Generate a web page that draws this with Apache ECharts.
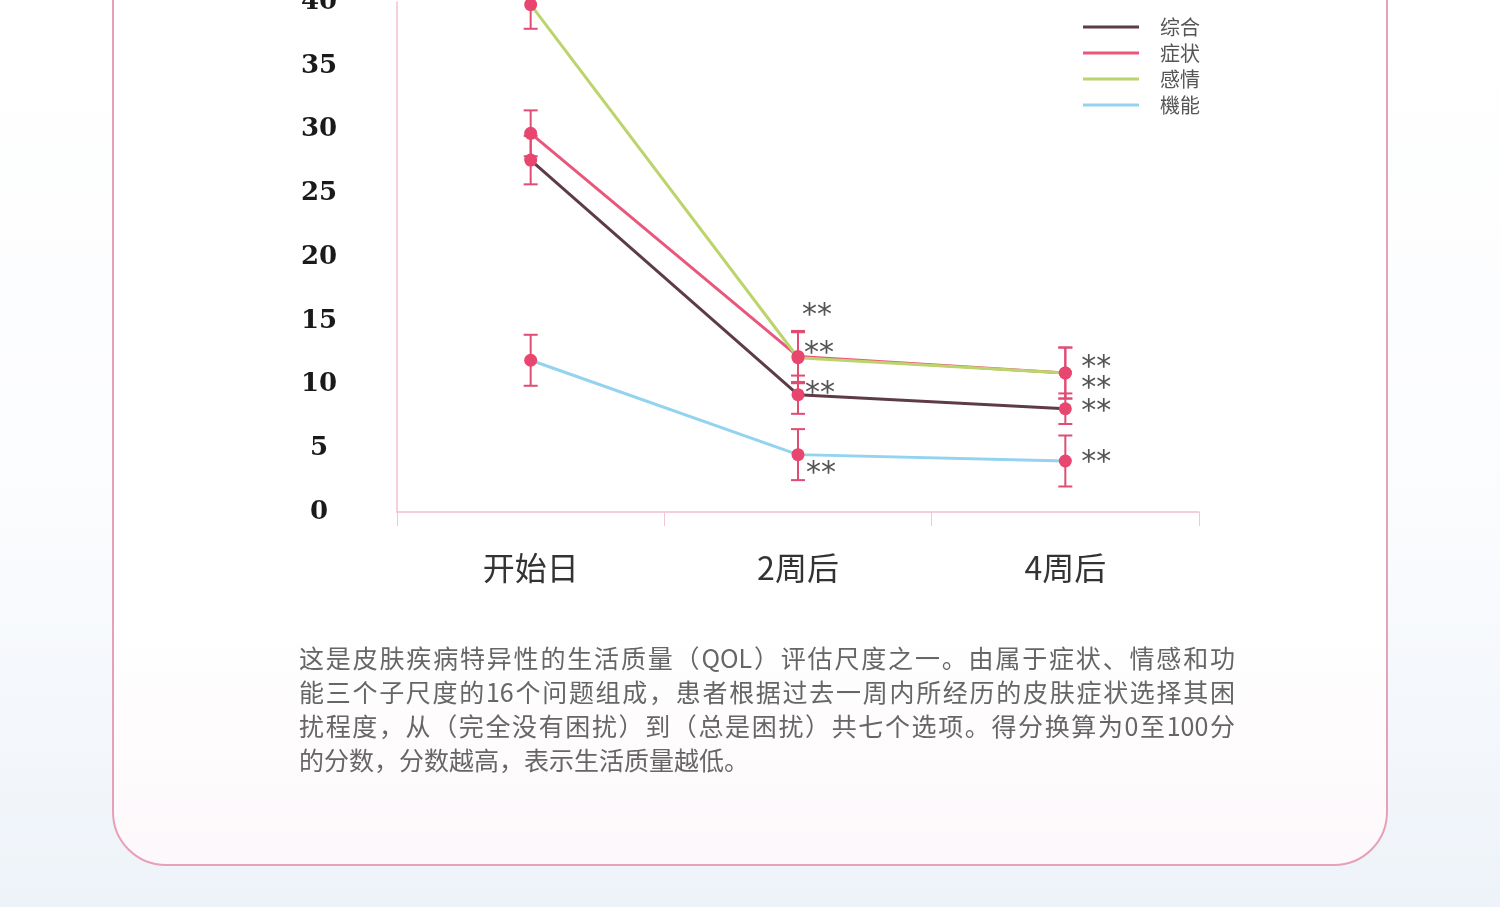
<!DOCTYPE html>
<html lang="zh">
<head>
<meta charset="utf-8" />
<style>
    html, body { margin: 0; padding: 0; width: 1500px; height: 907px; overflow: hidden; }
    body { background: linear-gradient(to bottom, #ffffff 0%, #fbfcfe 55%, #eef3f9 100%); position: relative; }
    #card {
        position: absolute; left: 112px; top: -100px; width: 1276px; height: 966px;
        box-sizing: border-box; border: 2px solid #e6a1b6; border-radius: 0 0 54px 54px;
        background: linear-gradient(to bottom, #ffffff 0%, #ffffff 75%, #fdf8fb 100%);
    }
    #chart { position: absolute; left: 0; top: 0; width: 1500px; height: 907px; }
    #note {
        position: absolute; left: 299px; top: 640px; width: 936px;
        font-family: "Noto Sans CJK SC", sans-serif; font-size: 25px; line-height: 34px; color: #666;
    }
    #note div { text-align: justify; text-align-last: justify; white-space: nowrap; }
    #note div.last { text-align-last: left; }
</style>
</head>
<body>

<div id="card"></div>
<div id="chart"></div>
<div id="note">
    <div>这是皮肤疾病特异性的生活质量（QOL）评估尺度之一。由属于症状、情感和功</div>
    <div>能三个子尺度的16个问题组成，患者根据过去一周内所经历的皮肤症状选择其困</div>
    <div>扰程度，从（完全没有困扰）到（总是困扰）共七个选项。得分换算为0至100分</div>
    <div class="last">的分数，分数越高，表示生活质量越低。</div>
</div>

<script src="https://cdn.jsdelivr.net/npm/echarts@6/dist/echarts.min.js"></script>
<script>
    // 数据
    var categories = ['开始日', '2周后', '4周后'];
    var names = ['综合', '症状', '感情', '機能'];

    var zonghe      = [27.6, 9.2, 8.1];
    var zhengzhuang = [29.7, 12.2, 10.9];
    var qinggan     = [39.8, 12.1, 10.9];
    var jineng      = [11.9, 4.5, 4.0];

    // 误差（±）
    var zongheErr      = [1.9, 1.5, 1.2];
    var zhengzhuangErr = [1.8, 2.0, 2.0];
    var qingganErr     = [1.9, 2.0, 2.0];
    var jinengErr      = [2.0, 2.0, 2.0];

    // 显著性标记
    var sig = ['', '**', '**'];

    var lineColors = ['#5e3b48', '#e9587c', '#bcd46c', '#93d3ef'];
    var markColor = '#e8456f';
    var errColor = '#e04c72';

    // 星号相对数据点的偏移（像素）
    var sigOffsets = [
        [[0, 0], [22, 0], [31, 3]],
        [[0, 0], [21, -2], [31, 16]],
        [[0, 0], [19, -42], [31, -5]],
        [[0, 0], [23, 20], [31, 2]]
    ];

    function lineSeries(k, vals){
        return {
            name: names[k],
            type: 'line',
            z: 4,
            symbol: 'circle',
            symbolSize: 13,
            itemStyle: { color: markColor },
            lineStyle: { color: lineColors[k], width: 3 },
            data: vals.map(function(v, i){
                return {
                    value: v,
                    label: {
                        show: sig[i] !== '',
                        formatter: sig[i],
                        position: 'inside',
                        offset: sigOffsets[k][i],
                        fontSize: 30,
                        color: '#555',
                        fontFamily: 'DejaVu Sans'
                    }
                };
            })
        };
    }

    function errorSeries(vals, errs){
        return {
            type: 'custom',
            z: 3,
            silent: true,
            data: vals.map(function(v, i){ return [i, v - errs[i], v + errs[i]]; }),
            renderItem: function(params, api){
                var lo = api.coord([api.value(0), api.value(1)]);
                var hi = api.coord([api.value(0), api.value(2)]);
                var w = 7, st = { stroke: errColor, lineWidth: 2 };
                return { type: 'group', children: [
                    { type: 'line', shape: { x1: lo[0], y1: lo[1], x2: hi[0], y2: hi[1] }, style: st },
                    { type: 'line', shape: { x1: lo[0] - w, y1: lo[1], x2: lo[0] + w, y2: lo[1] }, style: st },
                    { type: 'line', shape: { x1: hi[0] - w, y1: hi[1], x2: hi[0] + w, y2: hi[1] }, style: st }
                ]};
            }
        };
    }

    var option = {
        animation: false,
        grid: { left: 397, right: 301, top: 2, bottom: 395, outerBoundsMode: 'none', containLabel: false },
        legend: {
            orient: 'vertical', left: 1078, top: 12,
            itemWidth: 56, itemHeight: 3, itemGap: 6, icon: 'rect',
            textStyle: { fontSize: 20, color: '#555', fontFamily: 'Noto Sans CJK SC', padding: [0, 0, 0, 16] },
            data: names.map(function(n, i){ return { name: n, itemStyle: { color: lineColors[i] } }; })
        },
        xAxis: {
            type: 'category',
            data: categories,
            boundaryGap: true,
            axisLine: { lineStyle: { color: '#f2bfcd', width: 1.5 } },
            axisTick: { show: true, length: 14, lineStyle: { color: '#f2c7d3' } },
            axisLabel: { fontSize: 32, color: '#333', margin: 40, fontFamily: 'Noto Sans CJK SC' }
        },
        yAxis: {
            type: 'value',
            min: 0, max: 40, interval: 5,
            splitLine: { show: false },
            axisTick: { show: false },
            axisLine: { show: true, lineStyle: { color: '#f2bfcd', width: 1.5 } },
            axisLabel: { fontSize: 26, color: '#1a1a1a', fontFamily: 'DejaVu Serif', fontWeight: 'bold', align: 'center', margin: 78 }
        },
        series: [
            errorSeries(zonghe, zongheErr),
            errorSeries(zhengzhuang, zhengzhuangErr),
            errorSeries(qinggan, qingganErr),
            errorSeries(jineng, jinengErr),
            lineSeries(0, zonghe),
            lineSeries(1, zhengzhuang),
            lineSeries(2, qinggan),
            lineSeries(3, jineng)
        ]
    };

    var myChart = echarts.init(document.getElementById('chart'));
    myChart.setOption(option);
</script>
</body>
</html>
